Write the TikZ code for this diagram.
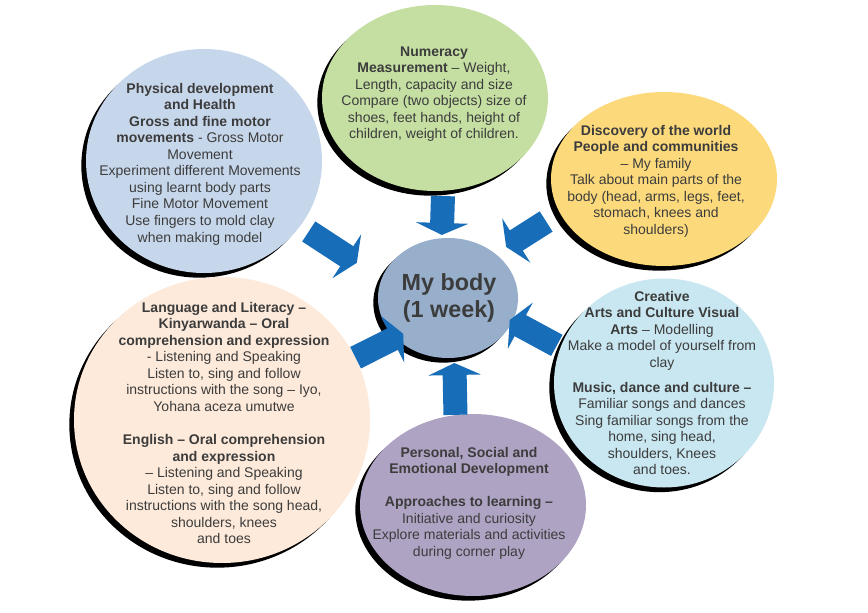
\documentclass[tikz,border=0pt]{standalone}
\usepackage{fontspec}
\setmainfont{Liberation Sans}
\usetikzlibrary{shapes.geometric,shadows,arrows.meta}
\definecolor{arrowblue}{HTML}{176DB7}
\definecolor{textgray}{HTML}{3C3C3C}
\definecolor{physfill}{HTML}{C7D7EB}
\definecolor{numfill}{HTML}{C5DFA2}
\definecolor{discfill}{HTML}{FCDA7C}
\definecolor{creafill}{HTML}{C9E7F1}
\definecolor{persfill}{HTML}{AFA3C3}
\definecolor{langfill}{HTML}{FDEADA}
\definecolor{bodyfill}{HTML}{97AFCB}
\tikzset{
  bubble/.style={ellipse, inner sep=0pt,
    drop shadow={shadow xshift=-3.5pt, shadow yshift=-3.5pt, fill=black, opacity=1}},
  bubbletext/.style={align=center, text=textgray, font=\fontsize{10.5}{12.4}\selectfont},
  blockarrow/.style={draw=arrowblue, line width=18pt, -{Triangle[width=39pt,length=9pt]}},
}
\begin{document}
\begin{tikzpicture}[x=0.75pt, y=-0.75pt]
  \useasboundingbox (0,0) rectangle (868,613);
  \fill[white] (0,0) rectangle (868,613);

  % bubbles
  \node[bubble, fill=physfill, minimum width=177pt, minimum height=168pt] (physical) at (204,161) {};
  \node[bubble, fill=numfill,  minimum width=169.5pt, minimum height=139.5pt] (numeracy) at (435,98) {};
  \node[bubble, fill=discfill, minimum width=169.5pt, minimum height=130.5pt] (discovery) at (664,179) {};
  \node[bubble, fill=creafill, minimum width=165pt, minimum height=156.75pt] (creative) at (664,383) {};
  \node[bubble, fill=persfill, minimum width=169.5pt, minimum height=136.5pt] (personal) at (473,505) {};
  \node[bubble, fill=langfill, minimum width=222pt, minimum height=214.5pt] (language) at (222,420) {};
  \node[bubble, fill=bodyfill, minimum width=105pt, minimum height=90pt] (body) at (448,298) {};

  % texts
  \node[bubbletext] (physical-text) at (200,164) {\textbf{Physical development}\\ \textbf{and Health}\\
    \textbf{Gross and fine motor}\\ \textbf{movements} - Gross Motor\\ Movement\\
    Experiment different Movements\\ using learnt body parts\\ Fine Motor Movement\\
    Use fingers to mold clay\\ when making model};
  \node[bubbletext] (numeracy-text) at (434,94) {\textbf{Numeracy}\\ \textbf{Measurement} -- Weight,\\
    Length, capacity and size\\ Compare (two objects) size of\\ shoes, feet hands, height of\\
    children, weight of children.};
  \node[bubbletext] (discovery-text) at (656,181) {\textbf{Discovery of the world}\\
    \textbf{People and communities}\\ -- My family\\ Talk about main parts of the\\
    body (head, arms, legs, feet,\\ stomach, knees and\\ shoulders)};
  \node[bubbletext] (creative-text) at (662,383) {\textbf{Creative}\\ \textbf{Arts and Culture Visual}\\
    \textbf{Arts} -- Modelling\\ Make a model of yourself from\\ clay\\[6pt]
    \textbf{Music, dance and culture --}\\ Familiar songs and dances\\
    Sing familiar songs from the\\ home, sing head,\\ shoulders, Knees\\ and toes.};
  \node[bubbletext] (personal-text) at (469,503) {\textbf{Personal, Social and}\\
    \textbf{Emotional Development}\\[12.4pt] \textbf{Approaches to learning --}\\
    Initiative and curiosity\\ Explore materials and activities\\ during corner play};
  \node[bubbletext] (language-text) at (224,423) {\textbf{Language and Literacy --}\\
    \textbf{Kinyarwanda -- Oral}\\ \textbf{comprehension and expression}\\
    - Listening and Speaking\\ Listen to, sing and follow\\
    instructions with the song -- Iyo,\\ Yohana aceza umutwe\\[12.4pt]
    \textbf{English -- Oral comprehension}\\ \textbf{and expression}\\
    -- Listening and Speaking\\ Listen to, sing and follow\\
    instructions with the song head,\\ shoulders, knees\\ and toes};
  \node[align=center, text=textgray, font=\fontsize{17.5}{20.5}\selectfont\bfseries] (body-text) at (449,298)
    {My body\\ (1 week)};

  % arrows into the centre
  \draw[blockarrow, shorten <=3.75pt, shorten >=2.25pt] (numeracy.-85.6) -- (body.96.6);
  \draw[blockarrow, shorten <=12pt, shorten >=9.4pt] (discovery.198.8) -- (body.43);
  \draw[blockarrow, shorten <=3pt, shorten >=-2.5pt] (creative.161.6) -- (body.-20.6);
  \draw[blockarrow, shorten >=3.75pt] (personal.101.2) -- (body.-84.4);
  \draw[blockarrow, shorten >=-6.7pt] (language.25.6) -- (body.217.1);
  \draw[blockarrow, shorten <=7.5pt, shorten >=22pt] (physical.-34.2) -- (body.164.75);
\end{tikzpicture}
\end{document}
